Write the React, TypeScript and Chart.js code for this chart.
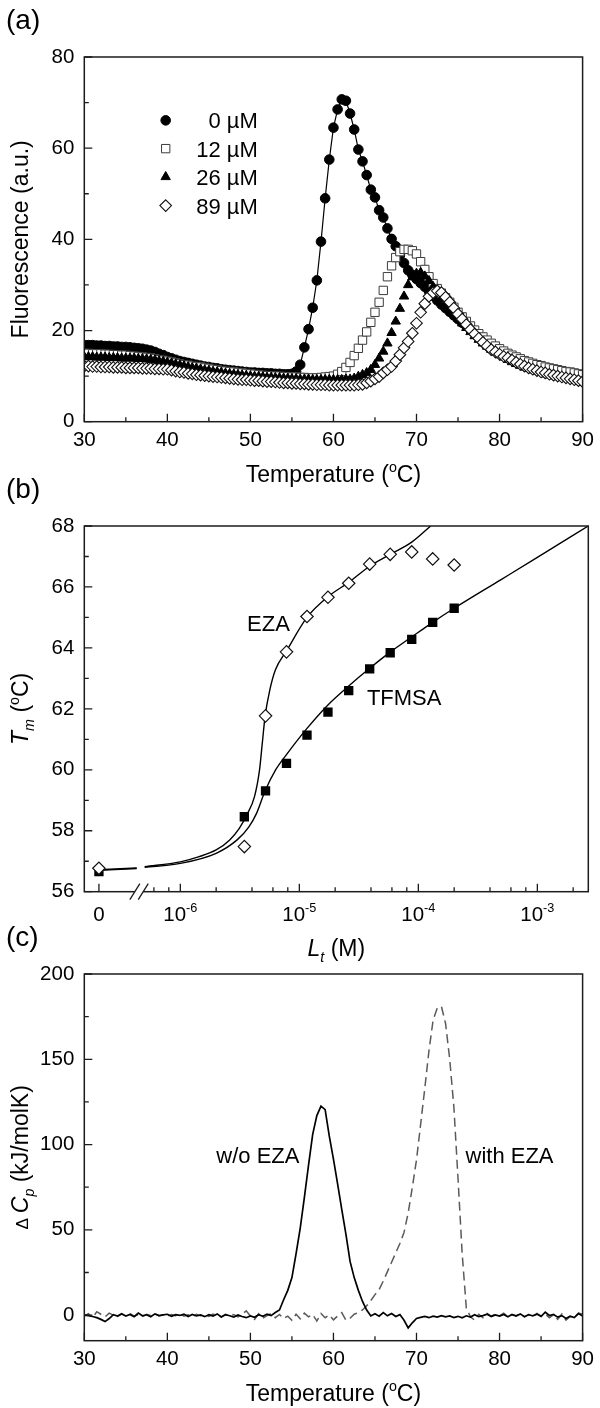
import React, { useEffect, useRef } from 'react';
import { Chart, registerables } from 'chart.js';

Chart.register(...registerables);

const FONT = "'Liberation Sans', Arial, Helvetica, sans-serif";

// ---------------- data: panel (a) ----------------
const temperatures = [
  30, 30.5, 31, 31.5, 32, 32.5, 33, 33.5, 34, 34.5,
  35, 35.5, 36, 36.5, 37, 37.5, 38, 38.5, 39, 39.5,
  40, 40.5, 41, 41.5, 42, 42.5, 43, 43.5, 44, 44.5,
  45, 45.5, 46, 46.5, 47, 47.5, 48, 48.5, 49, 49.5,
  50, 50.5, 51, 51.5, 52, 52.5, 53, 53.5, 54, 54.5,
  55, 55.5, 56, 56.5, 57, 57.5, 58, 58.5, 59, 59.5,
  60, 60.5, 61, 61.5, 62, 62.5, 63, 63.5, 64, 64.5,
  65, 65.5, 66, 66.5, 67, 67.5, 68, 68.5, 69, 69.5,
  70, 70.5, 71, 71.5, 72, 72.5, 73, 73.5, 74, 74.5,
  75, 75.5, 76, 76.5, 77, 77.5, 78, 78.5, 79, 79.5,
  80, 80.5, 81, 81.5, 82, 82.5, 83, 83.5, 84, 84.5,
  85, 85.5, 86, 86.5, 87, 87.5, 88, 88.5, 89, 89.5,
  90,
];

const fluor0uM = [
  16.8, 16.8, 16.8, 16.7, 16.7, 16.6, 16.6, 16.5, 16.5, 16.4,
  16.4, 16.3, 16.2, 16.1, 16.0, 15.8, 15.6, 15.3, 14.9, 14.6,
  14.2, 13.9, 13.6, 13.3, 13.1, 12.9, 12.7, 12.5, 12.3, 12.1,
  12.0, 11.8, 11.7, 11.5, 11.4, 11.3, 11.2, 11.1, 11.0, 10.9,
  10.8, 10.8, 10.7, 10.7, 10.6, 10.6, 10.5, 10.5, 10.4, 10.4,
  10.5, 11.0, 12.5, 16.3, 20.3, 25.0, 31.0, 39.5, 49.0, 57.5,
  64.5, 68.5, 70.7, 70.4, 67.6, 64.1, 59.7, 57.1, 54.1, 50.9,
  49.2, 46.4, 44.8, 42.4, 40.1, 38.5, 36.5, 34.8, 33.2, 32.2,
  31.3, 30.4, 29.6, 28.6, 27.6, 26.6, 25.7, 24.9, 24.1, 23.3,
  22.5, 21.7, 21.0, 20.2, 19.5, 18.8, 18.1, 17.5, 16.9, 16.3,
  15.7, 15.2, 14.8, 14.4, 14.0, 13.6, 13.2, 12.9, 12.5, 12.2,
  11.9, 11.6, 11.3, 11.1, 10.8, 10.6, 10.3, 10.1, 9.9, 9.7,
  9.5,
];

const fluor12uM = [
  15.0, 15.0, 14.9, 14.9, 14.9, 14.8, 14.8, 14.7, 14.7, 14.6,
  14.6, 14.5, 14.4, 14.3, 14.2, 14.1, 14.0, 13.8, 13.6, 13.5,
  13.3, 13.1, 12.9, 12.7, 12.5, 12.4, 12.2, 12.1, 12.0, 11.8,
  11.7, 11.5, 11.4, 11.2, 11.1, 11.0, 10.9, 10.8, 10.7, 10.6,
  10.5, 10.4, 10.3, 10.2, 10.1, 10.1, 10.0, 10.0, 9.9, 9.9,
  9.8, 9.8, 9.7, 9.7, 9.6, 9.6, 9.6, 9.7, 9.8, 9.9,
  10.0, 10.4, 11.0, 11.9, 13.0, 14.5, 16.1, 17.9, 19.7, 21.8,
  24.0, 26.2, 28.8, 31.8, 34.2, 36.0, 37.3, 37.8, 37.8, 37.5,
  36.8, 35.1, 33.4, 31.8, 30.3, 29.2, 28.2, 27.2, 26.2, 25.1,
  24.0, 23.0, 22.0, 21.0, 20.1, 19.3, 18.6, 17.9, 17.2, 16.6,
  16.0, 15.5, 15.0, 14.6, 14.2, 13.8, 13.4, 13.1, 12.8, 12.5,
  12.3, 12.0, 11.8, 11.6, 11.4, 11.2, 11.0, 10.9, 10.7, 10.5,
  10.3,
];

const fluor26uM = [
  14.2, 14.2, 14.2, 14.1, 14.1, 14.1, 14.0, 14.0, 14.0, 13.9,
  13.9, 13.9, 13.9, 13.8, 13.8, 13.7, 13.6, 13.5, 13.3, 13.2,
  13.0, 12.8, 12.6, 12.4, 12.2, 12.0, 11.8, 11.7, 11.5, 11.3,
  11.2, 11.0, 10.9, 10.8, 10.6, 10.5, 10.4, 10.3, 10.2, 10.1,
  10.0, 9.9, 9.9, 9.8, 9.7, 9.7, 9.6, 9.6, 9.5, 9.5,
  9.4, 9.4, 9.3, 9.3, 9.3, 9.2, 9.2, 9.2, 9.2, 9.2,
  9.2, 9.2, 9.2, 9.3, 9.3, 9.5, 9.9, 10.3, 10.7, 11.4,
  12.5, 13.9, 15.4, 17.2, 19.5, 22.0, 24.8, 27.5, 30.0, 31.7,
  32.5, 32.7, 31.9, 30.9, 29.6, 28.3, 27.0, 25.8, 24.7, 23.6,
  22.6, 21.6, 20.6, 19.7, 18.8, 18.0, 17.2, 16.5, 15.8, 15.2,
  14.6, 14.1, 13.6, 13.1, 12.7, 12.3, 11.9, 11.6, 11.3, 11.0,
  10.7, 10.4, 10.2, 10.0, 9.8, 9.6, 9.4, 9.2, 9.0, 8.8,
  8.6,
];

const fluor89uM = [
  12.2, 12.2, 12.1, 12.1, 12.0, 12.0, 12.0, 11.9, 11.9, 11.9,
  11.8, 11.8, 11.8, 11.8, 11.7, 11.7, 11.7, 11.6, 11.6, 11.5,
  11.5, 11.3, 11.1, 10.9, 10.8, 10.6, 10.5, 10.3, 10.2, 10.1,
  10.0, 9.9, 9.8, 9.7, 9.6, 9.5, 9.4, 9.3, 9.2, 9.2,
  9.1, 9.0, 9.0, 8.9, 8.8, 8.8, 8.7, 8.6, 8.5, 8.5,
  8.4, 8.4, 8.3, 8.3, 8.2, 8.2, 8.1, 8.1, 8.1, 8.0,
  8.0, 8.0, 8.0, 8.0, 8.0, 8.0, 8.1, 8.2, 8.5, 8.9,
  9.4, 9.9, 10.7, 11.4, 12.1, 13.3, 14.7, 16.2, 17.6, 19.4,
  21.6, 24.0, 25.9, 27.5, 28.3, 28.7, 28.3, 27.3, 26.2, 24.9,
  23.6, 22.5, 21.3, 20.2, 19.2, 18.3, 17.4, 16.6, 15.8, 15.3,
  14.8, 14.3, 14.0, 13.5, 13.0, 12.6, 12.2, 11.8, 11.5, 11.2,
  10.9, 10.7, 10.4, 10.2, 10.0, 9.8, 9.6, 9.4, 9.2, 9.0,
  8.8,
];

const legendLabels = ['0 \u00B5M', '12 \u00B5M', '26 \u00B5M', '89 \u00B5M'];

// ---------------- data: panel (b) ----------------
const ligandConc = [0, 3.45e-6, 5.2e-6, 7.8e-6, 1.16e-5, 1.74e-5, 2.6e-5, 3.9e-5, 5.8e-5, 8.8e-5, 1.32e-4, 2.0e-4];
const tmEZA = [56.77, 57.48, 61.77, 63.87, 65.03, 65.66, 66.12, 66.75, 67.07, 67.15, 66.92, 66.72];
const tmTFMSA = [56.66, 58.46, 59.31, 60.21, 61.14, 61.89, 62.6, 63.31, 63.84, 64.28, 64.84, 65.3];

const fitConcEZA = [0, 4.3e-7, 4.7e-7, 5.02e-7, 1e-6, 1.44e-6, 2e-6, 2.6e-6, 3.13e-6, 3.62e-6, 4.2e-6, 4.63e-6, 4.88e-6, 5.16e-6, 5.65e-6, 6.3e-6, 7.8e-6, 1.16e-5, 1.74e-5, 2.6e-5, 3.9e-5, 5.8e-5, 8.8e-5, 1.27e-4];
const fitEZA = [56.72, 56.78, null, 56.82, 56.98, 57.15, 57.37, 57.7, 58.08, 58.52, 59.12, 60.0, 60.86, 61.77, 62.62, 63.28, 63.9, 65.0, 65.68, 66.15, 66.68, 67.07, 67.47, 68.0];
const fitConcTFMSA = [0, 4.3e-7, 4.7e-7, 5.02e-7, 1e-6, 2e-6, 3e-6, 3.77e-6, 4.37e-6, 5.16e-6, 6.3e-6, 7.8e-6, 1.16e-5, 1.74e-5, 2.6e-5, 3.9e-5, 5.8e-5, 8.8e-5, 1.32e-4, 2e-4, 5e-4, 1e-3, 2.68e-3];
const fitTFMSA = [56.7, 56.76, null, 56.8, 56.93, 57.26, 57.7, 58.13, 58.57, 59.31, 59.99, 60.5, 61.36, 62.13, 62.75, 63.33, 63.86, 64.36, 64.84, 65.3, 66.25, 66.97, 68.0];

const concMajorTicks = [0, 1e-6, 1e-5, 1e-4, 1e-3];
const concMajorLabels = ['0', '-6', '-5', '-4', '-3'];
const concMinorTicks = [6e-7, 8e-7, 2e-6, 4e-6, 6e-6, 8e-6, 2e-5, 4e-5, 6e-5, 8e-5, 2e-4, 4e-4, 6e-4, 8e-4, 2e-3];

// ---------------- data: panel (c) ----------------
const cpWithoutEZA = [
  0.0, -0.3, -0.8, -1.5, -2.5, -3.8, -2.0, 0.3, -0.5, 0.8,
  -0.6, 0.4, -0.9, 1.2, -0.4, 0.2, -1.0, 0.7, -0.3, 0.1,
  0.5, -0.7, 0.3, -0.2, 0.6, -0.8, 0.4, -0.5, 0.1, -0.9,
  0.3, -0.6, 0.7, -1.1, 0.2, -0.4, -1.2, 0.1, -0.8, -1.5,
  -0.5, -1.3, 0.2, -0.7, 0.6, -0.3, 1.5, 3.0, 9.0, 14.5,
  22.0, 36.0, 51.0, 69.0, 88.0, 106.0, 117.0, 122.5, 120.5, 105.0,
  91.5, 77.0, 62.0, 47.5, 31.5, 22.0, 14.5, 8.0, 3.0, -0.5,
  0.8, -0.6, 1.5, -0.4, 0.9, -0.8, 0.3, -3.0, -7.5, -4.5,
  -2.0, -1.3, -0.8, -1.5, -0.6, -1.2, -0.3, -1.0, -0.5, -1.4,
  -0.7, -1.6, -0.4, -1.1, 0.2, -0.9, -0.3, 0.5, -0.8, 0.1,
  -0.6, 0.4, -1.0, 0.3, -0.5, 0.7, -0.9, 0.2, -0.4, 0.6,
  -0.8, 1.8, -0.2, 0.4, -1.2, -0.3, -2.0, -0.6, -1.4, 0.9,
  -0.5,
];

const cpWithEZA = [
  -0.5, 0.8, -1.5, 2.0, 0.5, -1.0, 1.2, 0.0, -0.8, 0.6,
  -0.4, 0.9, -0.6, 0.3, -0.9, 0.5, -0.2, 0.8, -0.5, 0.2,
  -0.7, 0.4, -0.3, 0.9, -0.6, 0.2, -0.9, 0.5, -0.4, 0.3,
  -0.8, 0.6, -0.2, -1.0, 0.4, -0.6, 0.3, -1.1, 0.5, 2.5,
  -0.5, -2.5, 0.8, -1.8, -0.3, 0.9, -1.5, 0.4, -2.0, -0.6,
  -3.0, 0.5, -2.2, 1.2, -1.0, 0.3, -3.5, 1.0, -1.5, 0.2,
  -2.8, -0.5, 1.5, -3.0, -1.8, 0.5, 1.5, 3.0, 5.5, 8.5,
  12.0, 15.0, 20.0, 25.5, 31.0, 36.5, 42.0, 48.5, 60.0, 75.0,
  91.0, 112.0, 133.0, 155.0, 173.0, 180.0, 181.0, 171.0, 150.0, 122.0,
  80.0, 36.0, 4.0, -1.0, -3.0, 0.5, -1.5, 1.0, -0.6, 0.8,
  -0.4, 1.2, -0.9, 0.5, -0.3, 0.9, -1.1, 0.4, -0.7, 1.0,
  -0.5, 0.8, -1.6, 0.3, -2.5, 0.6, -3.0, -0.8, -1.5, 1.2,
  0.5,
];

const tempMajorTicks = [30, 40, 50, 60, 70, 80, 90];
const tempMinorTicks = [35, 45, 55, 65, 75, 85];
const fluorMajorTicks = [0, 20, 40, 60, 80];
const fluorMinorTicks = [10, 30, 50, 70];
const tmMajorTicks = [56, 58, 60, 62, 64, 66, 68];
const tmMinorTicks = [57, 59, 61, 63, 65, 67];
const cpMajorTicks = [0, 50, 100, 150, 200];
const cpMinorTicks = [25, 75, 125, 175];

// ---------------- layout constants ----------------
const ZERO_POS = 2.07e-7; // where the "0" concentration sits on the broken log axis
const BREAK_POS = 4.5e-7;
const CONC_MIN = 1.56e-7;
const CONC_MAX = 2.68e-3;
const MAJOR_LEN = 8;
const MINOR_LEN = 4.5;
const TICK_FONT_SIZE = 20.5;
const TITLE_SIZE = 23;
const NOTE_SIZE = 22;

const markerStyles = [
  { pointStyle: 'circle', radius: 4.8, fill: '#000', stroke: '#000', lw: 1 },
  { pointStyle: 'rect', radius: 5.9, fill: '#fff', stroke: '#3c3c3c', lw: 1 },
  { pointStyle: 'triangle', radius: 5.4, fill: '#000', stroke: '#000', lw: 1 },
  { pointStyle: 'rectRot', radius: 5.8, fill: '#fff', stroke: '#111', lw: 1.1 },
];
const legendSymbolT = 39.8;
const legendTextT = 50.9;
const legendRowsF = [66.1, 59.9, 53.7, 47.4];

// ---------------- helpers ----------------
type Seg = { t: string; it?: boolean; sub?: boolean; sup?: boolean; sc?: number };

const segSize = (s: Seg, base: number) => (s.sub || s.sup ? base * 0.62 : base * (s.sc ?? 1));
const fontOf = (size: number, it?: boolean) => `${it ? 'italic ' : ''}${size}px ${FONT}`;

function drawRich(ctx: any, segs: Seg[], x: number, y: number, base: number, align = 'center', rotate = false) {
  ctx.save();
  ctx.translate(x, y);
  if (rotate) ctx.rotate(-Math.PI / 2);
  let w = 0;
  for (const s of segs) {
    ctx.font = fontOf(segSize(s, base), s.it);
    w += ctx.measureText(s.t).width;
  }
  let cx = align === 'center' ? -w / 2 : align === 'right' ? -w : 0;
  ctx.textAlign = 'left';
  ctx.textBaseline = 'alphabetic';
  ctx.fillStyle = '#000';
  for (const s of segs) {
    ctx.font = fontOf(segSize(s, base), s.it);
    let dy = base * 0.36;
    if (s.sub) dy += base * 0.24;
    if (s.sup) dy -= base * 0.42;
    ctx.fillText(s.t, cx, dy);
    cx += ctx.measureText(s.t).width;
  }
  ctx.restore();
}

function drawMarker(ctx: any, st: any, x: number, y: number) {
  ctx.save();
  ctx.beginPath();
  const r = st.radius;
  if (st.pointStyle === 'circle') ctx.arc(x, y, r, 0, Math.PI * 2);
  else if (st.pointStyle === 'rect') {
    const h = r * Math.SQRT1_2;
    ctx.rect(x - h, y - h, 2 * h, 2 * h);
  } else if (st.pointStyle === 'triangle') {
    ctx.moveTo(x, y - r);
    ctx.lineTo(x + r * Math.sin((2 * Math.PI) / 3), y + r / 2);
    ctx.lineTo(x - r * Math.sin((2 * Math.PI) / 3), y + r / 2);
    ctx.closePath();
  } else {
    ctx.moveTo(x, y - r);
    ctx.lineTo(x + r, y);
    ctx.lineTo(x, y + r);
    ctx.lineTo(x - r, y);
    ctx.closePath();
  }
  ctx.fillStyle = st.fill;
  ctx.fill();
  ctx.lineWidth = st.lw;
  ctx.strokeStyle = st.stroke;
  ctx.stroke();
  ctx.restore();
}

interface Note { x: number; y: number; segs: Seg[]; align?: string }
interface Deco {
  panel: string;
  xTitle: Seg[];
  xTitleDy: number;
  yTitle: Seg[];
  xMajor: number[];
  xMinor: number[];
  yMajor: number[];
  yMinor: number[];
  xRichLabels?: { v: number; segs: Seg[] }[];
  breakAt?: number;
  notes?: Note[];
  legend?: boolean;
}

function makeDeco(d: Deco) {
  return {
    id: 'deco',
    afterDraw(chart: any) {
      const ctx = chart.ctx;
      const a = chart.chartArea;
      const xs = chart.scales.x;
      const ys = chart.scales.y;
      ctx.save();
      ctx.strokeStyle = '#1c1c1c';
      ctx.lineWidth = 1.3;
      ctx.beginPath();
      const xt = (vals: number[], len: number) =>
        vals.forEach((v) => {
          const p = xs.getPixelForValue(v);
          ctx.moveTo(p, a.bottom);
          ctx.lineTo(p, a.bottom - len);
        });
      const yt = (vals: number[], len: number) =>
        vals.forEach((v) => {
          const p = ys.getPixelForValue(v);
          ctx.moveTo(a.left, p);
          ctx.lineTo(a.left + len, p);
        });
      xt(d.xMajor, MAJOR_LEN);
      xt(d.xMinor, MINOR_LEN);
      yt(d.yMajor, MAJOR_LEN);
      yt(d.yMinor, MINOR_LEN);
      ctx.stroke();
      ctx.lineWidth = 1.5;
      ctx.strokeRect(a.left, a.top, a.right - a.left, a.bottom - a.top);

      if (d.breakAt) {
        const bx = xs.getPixelForValue(d.breakAt);
        ctx.fillStyle = '#fff';
        ctx.fillRect(bx - 4, a.bottom - 2, 8, 4);
        ctx.lineWidth = 1.3;
        ctx.beginPath();
        [-4.2, 4.2].forEach((o) => {
          ctx.moveTo(bx + o - 5, a.bottom + 8);
          ctx.lineTo(bx + o + 5, a.bottom - 8);
        });
        ctx.stroke();
      }

      if (d.xRichLabels) {
        d.xRichLabels.forEach((l) => drawRich(ctx, l.segs, xs.getPixelForValue(l.v), a.bottom + 22, TICK_FONT_SIZE));
      }

      // axis titles
      drawRich(ctx, d.xTitle, (a.left + a.right) / 2, a.bottom + d.xTitleDy, TITLE_SIZE);
      drawRich(ctx, d.yTitle, 20, (a.top + a.bottom) / 2, TITLE_SIZE, 'center', true);

      // panel label
      ctx.fillStyle = '#000';
      ctx.font = fontOf(28);
      ctx.textAlign = 'left';
      ctx.textBaseline = 'middle';
      ctx.fillText(d.panel, 6, a.top - 36);

      (d.notes || []).forEach((n) =>
        drawRich(ctx, n.segs, xs.getPixelForValue(n.x), ys.getPixelForValue(n.y), NOTE_SIZE, n.align || 'center')
      );

      if (d.legend) {
        const sx = xs.getPixelForValue(legendSymbolT);
        const tx = xs.getPixelForValue(legendTextT);
        legendLabels.forEach((lab, i) => {
          const py = ys.getPixelForValue(legendRowsF[i]);
          drawMarker(ctx, markerStyles[i], sx, py);
          drawRich(ctx, [{ t: lab }], tx, py, NOTE_SIZE, 'right');
        });
      }
      ctx.restore();
    },
  };
}

function linAxis(min: number, max: number, tickVals: number[], pad: number, show = true) {
  return {
    type: 'linear',
    min,
    max,
    grid: { display: false, drawTicks: false },
    border: { display: false },
    afterBuildTicks: (s: any) => {
      s.ticks = tickVals.map((v) => ({ value: v }));
    },
    ticks: {
      display: show,
      font: { family: FONT, size: TICK_FONT_SIZE },
      color: '#000',
      padding: pad,
      autoSkip: false,
      maxRotation: 0,
      callback: (v: any) => String(v),
    },
  };
}

function commonOptions(xAxis: any, yAxis: any, xh: number) {
  return {
    responsive: false,
    animation: false,
    events: [],
    layout: { padding: { top: 57, right: 11.7, left: 0, bottom: 0 } },
    plugins: { legend: { display: false }, tooltip: { enabled: false } },
    scales: {
      x: { ...xAxis, afterFit: (s: any) => { s.height = xh; } },
      y: { ...yAxis, afterFit: (s: any) => { s.width = 84.3; } },
    },
  };
}

const pts = (xs: number[], ys: (number | null)[]) => xs.map((x, i) => ({ x, y: ys[i] }));
const concPts = (xs: number[], ys: (number | null)[]) => xs.map((x, i) => ({ x: x === 0 ? ZERO_POS : x, y: ys[i] }));

const tempTitle: Seg[] = [{ t: 'Temperature (' }, { t: 'o', sup: true }, { t: 'C)' }];

function buildA(): any {
  const series = [fluor0uM, fluor12uM, fluor26uM, fluor89uM];
  const datasets = series.map((ys, i) => {
    const st = markerStyles[i];
    return {
      label: legendLabels[i],
      data: pts(temperatures, ys),
      showLine: i === 0,
      borderColor: '#000',
      borderWidth: 1.2,
      pointStyle: st.pointStyle,
      pointRadius: st.radius,
      pointBackgroundColor: st.fill,
      pointBorderColor: st.stroke,
      pointBorderWidth: st.lw,
      order: 4 - i,
    };
  });
  return {
    type: 'scatter',
    data: { datasets },
    options: commonOptions(linAxis(30, 90, tempMajorTicks, 6), linAxis(0, 80, fluorMajorTicks, 10), 78.3),
    plugins: [
      makeDeco({
        panel: '(a)',
        xTitle: tempTitle,
        xTitleDy: 52,
        yTitle: [{ t: 'Fluorescence (a.u.)' }],
        xMajor: tempMajorTicks,
        xMinor: tempMinorTicks,
        yMajor: fluorMajorTicks,
        yMinor: fluorMinorTicks,
        legend: true,
      }),
    ],
  };
}

function buildB(): any {
  const xAxis = {
    type: 'logarithmic',
    min: CONC_MIN,
    max: CONC_MAX,
    grid: { display: false, drawTicks: false },
    border: { display: false },
    afterBuildTicks: (s: any) => {
      s.ticks = concMajorTicks.map((v) => ({ value: v === 0 ? ZERO_POS : v }));
    },
    ticks: { display: false },
  };
  const datasets = [
    {
      data: concPts(ligandConc, tmEZA),
      showLine: false,
      pointStyle: 'rectRot',
      pointRadius: 6.2,
      pointBackgroundColor: '#fff',
      pointBorderColor: '#111',
      pointBorderWidth: 1.2,
      order: 1,
    },
    {
      data: concPts(ligandConc, tmTFMSA),
      showLine: false,
      pointStyle: 'rect',
      pointRadius: 6.6,
      pointBackgroundColor: '#000',
      pointBorderColor: '#000',
      pointBorderWidth: 0,
      order: 2,
    },
    {
      data: concPts(fitConcEZA, fitEZA),
      showLine: true,
      spanGaps: false,
      pointRadius: 0,
      borderColor: '#000',
      borderWidth: 1.4,
      cubicInterpolationMode: 'monotone',
      order: 3,
    },
    {
      data: concPts(fitConcTFMSA, fitTFMSA),
      showLine: true,
      spanGaps: false,
      pointRadius: 0,
      borderColor: '#000',
      borderWidth: 1.4,
      cubicInterpolationMode: 'monotone',
      order: 4,
    },
  ];
  return {
    type: 'scatter',
    data: { datasets },
    options: commonOptions(xAxis, linAxis(56, 68, tmMajorTicks, 10), 77.3),
    plugins: [
      makeDeco({
        panel: '(b)',
        xTitle: [{ t: 'L', it: true }, { t: 't', it: true, sub: true }, { t: ' (M)' }],
        xTitleDy: 56,
        yTitle: [{ t: 'T', it: true }, { t: 'm', it: true, sub: true }, { t: ' (' }, { t: 'o', sup: true }, { t: 'C)' }],
        xMajor: concMajorTicks.map((v) => (v === 0 ? ZERO_POS : v)),
        xMinor: concMinorTicks,
        yMajor: tmMajorTicks,
        yMinor: tmMinorTicks,
        breakAt: BREAK_POS,
        xRichLabels: concMajorTicks.map((v, i) => ({
          v: v === 0 ? ZERO_POS : v,
          segs: v === 0 ? [{ t: concMajorLabels[i] }] : [{ t: '10' }, { t: concMajorLabels[i], sup: true }],
        })),
        notes: [
          { x: 5.5e-6, y: 64.81, segs: [{ t: 'EZA' }] },
          { x: 7.6e-5, y: 62.4, segs: [{ t: 'TFMSA' }] },
        ],
      }),
    ],
  };
}

function buildC(): any {
  const datasets = [
    {
      data: pts(temperatures, cpWithoutEZA),
      showLine: true,
      pointRadius: 0,
      borderColor: '#000',
      borderWidth: 1.7,
      order: 1,
    },
    {
      data: pts(temperatures, cpWithEZA),
      showLine: true,
      pointRadius: 0,
      borderColor: '#5a5a5a',
      borderWidth: 1.5,
      borderDash: [9, 5],
      order: 2,
    },
  ];
  return {
    type: 'scatter',
    data: { datasets },
    options: commonOptions(linAxis(30, 90, tempMajorTicks, 6), linAxis(-15, 200, cpMajorTicks, 10), 67.3),
    plugins: [
      makeDeco({
        panel: '(c)',
        xTitle: tempTitle,
        xTitleDy: 52,
        yTitle: [{ t: '\u0394 ', sc: 0.75 }, { t: 'C', it: true }, { t: 'p', it: true, sub: true }, { t: ' (kJ/molK)' }],
        xMajor: tempMajorTicks,
        xMinor: tempMinorTicks,
        yMajor: cpMajorTicks,
        yMinor: cpMinorTicks,
        notes: [
          { x: 50.9, y: 93.6, segs: [{ t: 'w/o EZA' }] },
          { x: 81.2, y: 93.6, segs: [{ t: 'with EZA' }] },
        ],
      }),
    ],
  };
}

function ChartCanvas({ top, height, build }: { top: number; height: number; build: () => any }) {
  const ref = useRef<HTMLCanvasElement>(null);
  useEffect(() => {
    if (!ref.current) return;
    const chart = new Chart(ref.current, build());
    return () => chart.destroy();
  }, []);
  return (
    <canvas
      ref={ref}
      width={600}
      height={height}
      style={{ position: 'absolute', left: 0, top, width: 600, height, display: 'block' }}
    />
  );
}

export default function App() {
  return (
    <div style={{ position: 'absolute', left: 0, top: 0, width: 600, height: 1408, background: '#fff', overflow: 'hidden' }}>
      <ChartCanvas top={0} height={500} build={buildA} />
      <ChartCanvas top={469} height={500} build={buildB} />
      <ChartCanvas top={917} height={491} build={buildC} />
    </div>
  );
}
